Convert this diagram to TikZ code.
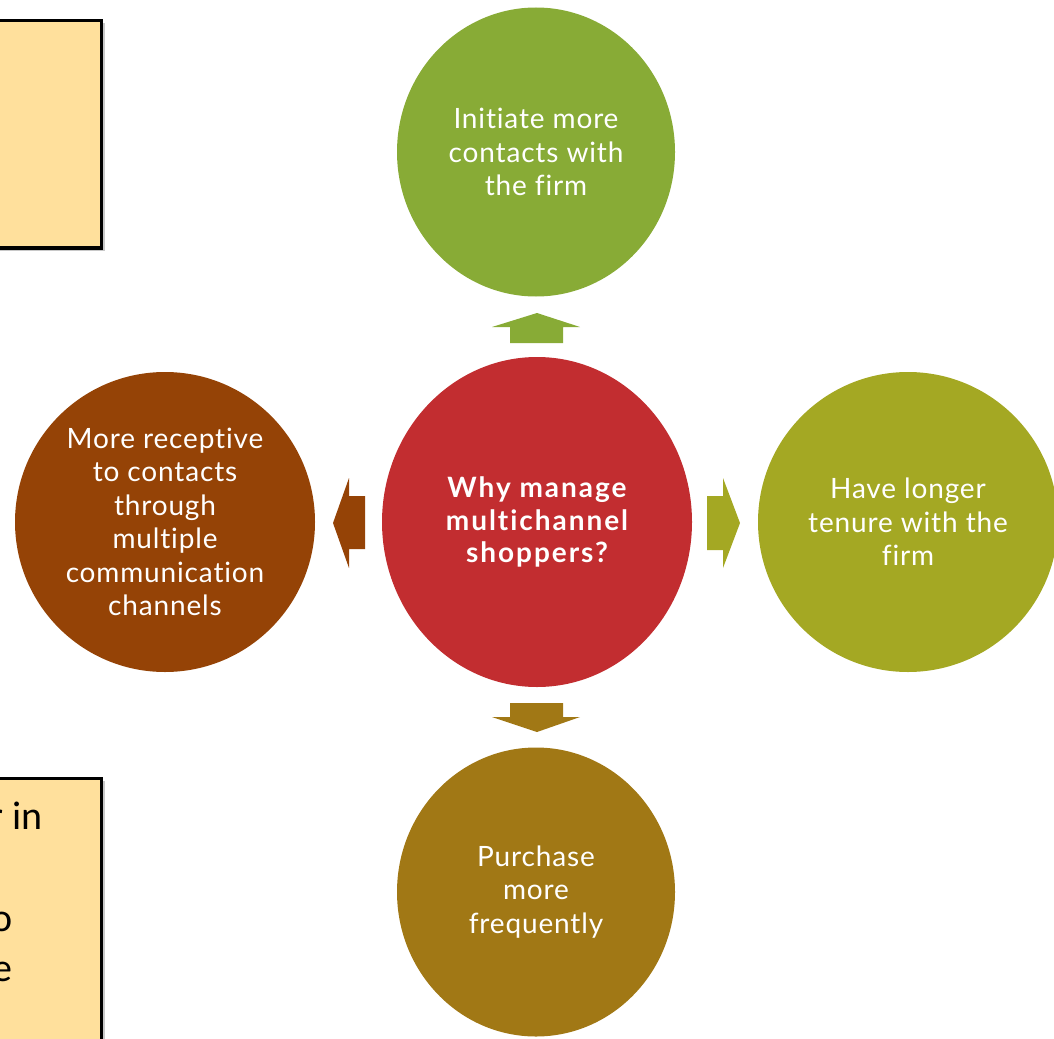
\documentclass[tikz,border=0pt]{standalone}
\usepackage{fontspec}
\setmainfont{Lato}[Ligatures=NoCommon, LetterSpace=3]
\newfontfamily\hubfont{Lato}[Ligatures=NoCommon, LetterSpace=7]
\newfontfamily\notefont{Carlito}
\usetikzlibrary{shapes.geometric}

\definecolor{hubred}{HTML}{C22D30}
\definecolor{leafgreen}{HTML}{88AB36}
\definecolor{rust}{HTML}{954306}
\definecolor{olive}{HTML}{A4A823}
\definecolor{ochre}{HTML}{A17815}
\definecolor{notefill}{HTML}{FFE09C}
\definecolor{notedrop}{HTML}{C8C8C8}

\begin{document}
\begin{tikzpicture}[x=1pt,y=-1pt,
  bubble/.style={ellipse, inner sep=0pt, outer sep=0pt, draw=none, text=white,
    align=center, font=\fontsize{28}{33.5}\selectfont},
  note/.style={fill=notefill, draw=black, line width=3.5pt},
  notetext/.style={inner sep=0pt, anchor=base east, text=black,
    font=\notefont\fontsize{40}{51}\selectfont}]
\useasboundingbox (0,0) rectangle (1054,1038);

% side notes (cut by the page edge)
\fill[notedrop] (-10,23) rectangle (104.8,251.2);
\draw[note] (-10,20.7) rectangle (101.3,248);
\fill[notedrop] (-10,781) rectangle (104.8,1060);
\draw[note] (-10,778.5) rectangle (101.3,1060);
\node[notetext] (n1) at (43,829) {r in};
\node[notetext] (n2) at (12.5,931) {o};
\node[notetext] (n3) at (12.5,981) {e};

% hub and the four outcomes
\node[bubble, fill=hubred, minimum width=310pt, minimum height=330pt,
  font=\hubfont\fontsize{28}{32.5}\selectfont\bfseries] (hub) at (537,522)
  {Why manage\\multichannel\\shoppers?};
\node[bubble, fill=leafgreen, minimum width=278pt, minimum height=289pt] (top) at (536,152)
  {Initiate more\\contacts with\\the firm};
\node[bubble, fill=rust, minimum width=300pt, minimum height=300pt] (left) at (165,522)
  {More receptive\\to contacts\\through\\multiple\\communication\\channels};
\node[bubble, fill=olive, minimum width=300pt, minimum height=300pt] (right) at (908,522)
  {Have longer\\tenure with the\\firm};
\node[bubble, fill=ochre, minimum width=278pt, minimum height=289pt] (bottom) at (536,892)
  {Purchase\\more\\frequently};

% block arrows pointing out of the hub
\fill[leafgreen] (510,343) -- (510,327) -- (492,327) -- (537,313) -- (580,327)
  -- (563,327) -- (563,343) -- cycle;
\fill[rust] (365,496) -- (349,496) -- (349,478) -- (333,523) -- (349,568)
  -- (349,549) -- (365,549) -- cycle;
\fill[olive] (707,496) -- (723,496) -- (723,478) -- (740,523) -- (723,568)
  -- (723,550) -- (707,550) -- cycle;
\fill[ochre] (510,703) -- (563,703) -- (563,717) -- (580,717) -- (537,732)
  -- (492,717) -- (510,717) -- cycle;
\end{tikzpicture}
\end{document}
